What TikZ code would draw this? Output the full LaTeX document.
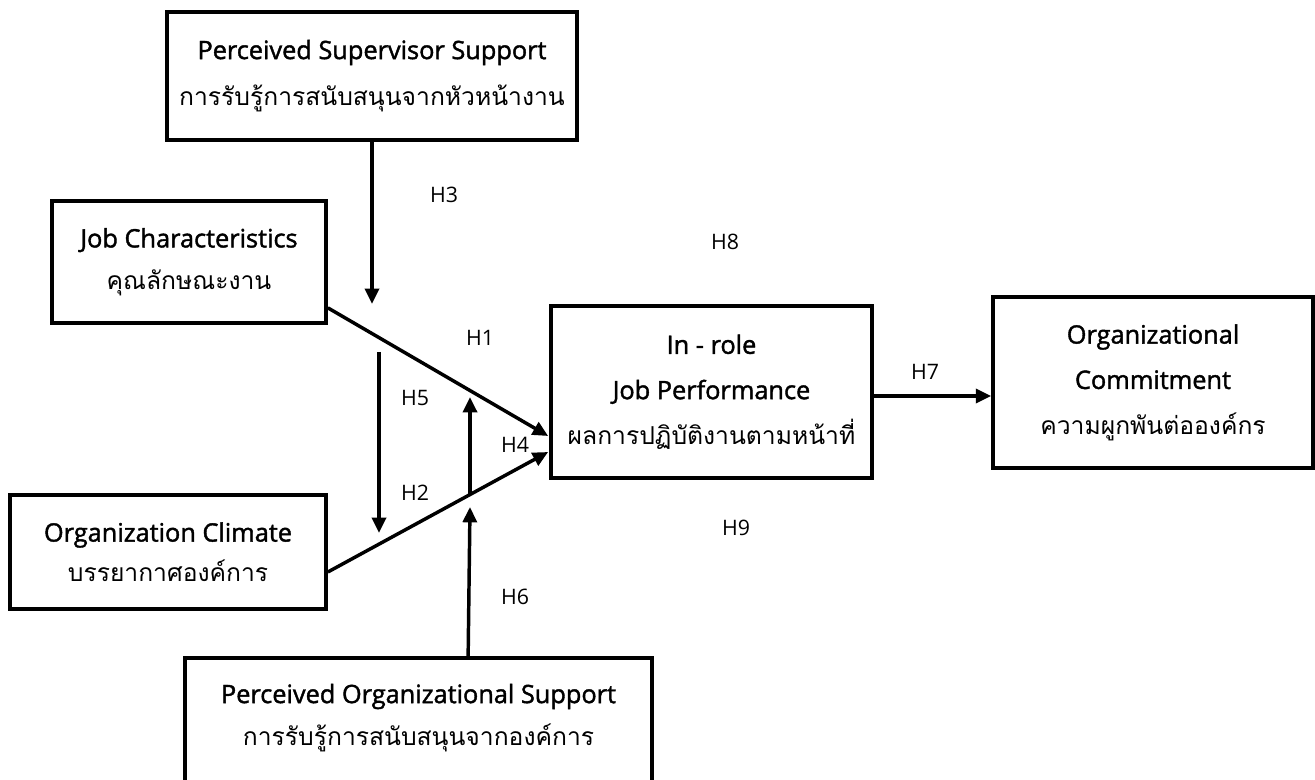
\documentclass[tikz,border=0pt]{standalone}
\usepackage{fontspec}
\setmainfont{Open Sans}
\newfontfamily\thaifont[Script=Thai]{Loma}
\newfontfamily\titlefont[FakeBold=1.6]{Open Sans}
\usetikzlibrary{arrows.meta,calc}
\newcommand\entxt[1]{{\titlefont\fontsize{19}{20}\selectfont #1}}
\newcommand\thaitxt[1]{{\thaifont\fontsize{18.5}{20}\selectfont #1}}
\begin{document}
\begin{tikzpicture}[x=0.75pt,y=-0.75pt,
  box/.style={draw,line width=2.8pt,align=center,inner sep=0pt},
  conn/.style={line width=2.6pt,-{Triangle[length=11.5pt,width=10.5pt]}},
  hyp/.style={font=\fontsize{16}{18}\selectfont,inner sep=0pt}]
\useasboundingbox[fill=white] (0,0) rectangle (1315,780);

% boxes
\node[box,minimum width=307.5pt,minimum height=96pt,font=\fontsize{19}{35}\selectfont] (pss) at (372,76)
  {\entxt{Perceived Supervisor Support}\\\thaitxt{การรับรู้การสนับสนุนจากหัวหน้างาน}};
\node[box,minimum width=205.5pt,minimum height=91.5pt,font=\fontsize{19}{31.5}\selectfont] (jc) at (189,262)
  {\entxt{Job Characteristics}\\\thaitxt{คุณลักษณะงาน}};
\node[box,minimum width=237pt,minimum height=85.5pt,font=\fontsize{19}{30}\selectfont] (oc) at (168,552)
  {\entxt{Organization Climate}\\\thaitxt{บรรยากาศองค์การ}};
\node[box,minimum width=240.75pt,minimum height=129pt,font=\fontsize{19}{34}\selectfont] (ijp) at (711.5,392)
  {\entxt{In - role}\\\entxt{Job Performance}\\\thaitxt{ผลการปฏิบัติงานตามหน้าที่}};
\node[box,minimum width=240pt,minimum height=128.25pt,font=\fontsize{19}{34}\selectfont] (ocom) at (1153,382.5)
  {\entxt{Organizational}\\\entxt{Commitment}\\\thaitxt{ความผูกพันต่อองค์กร}};
\node[box,minimum width=350.25pt,minimum height=106.5pt] (pos) at (418.5,729) {};
\node[align=center,inner sep=0pt,font=\fontsize{19}{32}\selectfont] (posT) at (418.5,718)
  {\entxt{Perceived Organizational Support}\\\thaitxt{การรับรู้การสนับสนุนจากองค์การ}};

% free ends of moderating arrows
\coordinate (h3end) at (372,304);
\coordinate (h5start) at (379,352);
\coordinate (h5end) at (379,533);
\coordinate (h6end) at (470,507);
\coordinate (h6mid) at (470,494);
\coordinate (h6top) at (470,397);

% main paths
\draw[conn] ($(jc.south east)+(0,-17)$) -- ($(ijp.west)+(-1,44)$);
\draw[conn] ($(oc.east)+(0,20)$) -- ($(ijp.west)+(-1,60)$);
\draw[conn] (pss.south) -- (h3end);
\draw[conn] (h5start) -- (h5end);
\draw[conn] ($(pos.north west)+(285,0)$) -- (h6end);
\draw[conn] (h6mid) -- (h6top);
\draw[conn] ($(ijp.east)+(0,4)$) -- ($(ijp.east -| ocom.west)+(0,4)$);

% hypothesis labels
\node[hyp] (H1) at (480,338) {H1};
\node[hyp] (H2) at (415,493) {H2};
\node[hyp] (H3) at (444,195) {H3};
\node[hyp] (H4) at (515,445) {H4};
\node[hyp] (H5) at (415,398) {H5};
\node[hyp] (H6) at (515,597) {H6};
\node[hyp] (H7) at (925,372) {H7};
\node[hyp] (H8) at (725,242) {H8};
\node[hyp] (H9) at (736,528) {H9};
\end{tikzpicture}
\end{document}
